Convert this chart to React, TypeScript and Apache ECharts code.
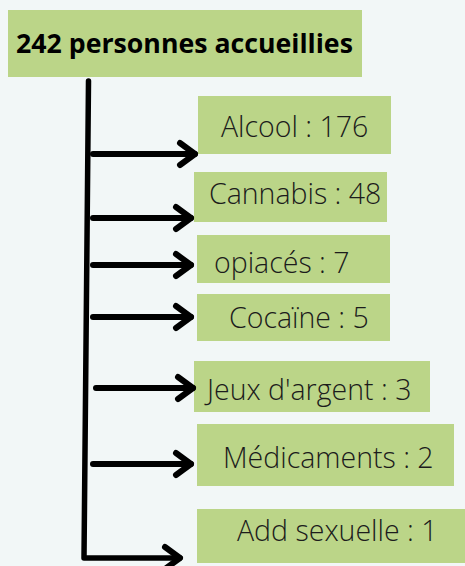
import React, { useEffect, useRef } from "react";
import * as echarts from "echarts";

// ---- data ----
const totalPersons = 242;
const titleSuffix = "personnes accueillies";
const categories = ["Alcool", "Cannabis", "opiacés", "Cocaïne", "Jeux d'argent", "Médicaments", "Add sexuelle"];
const values = [176, 48, 7, 5, 3, 2, 1];

// ---- layout (positions/sizes kept separate from the data) ----
const titleBox = { x: 8, y: 10, w: 354, h: 67, textX: 184.5, textY: 42 };
const boxes = [
  { x: 198, y: 96, w: 193, h: 58, tx: 221, ty: 126, ay: 154, ax0: 93, ax1: 195 },
  { x: 194, y: 172, w: 193, h: 50, tx: 209, ty: 193, ay: 218, ax0: 93, ax1: 191 },
  { x: 197, y: 235, w: 193, h: 48, tx: 214, ty: 262, ay: 265, ax0: 93, ax1: 191 },
  { x: 197, y: 294, w: 193, h: 47, tx: 229, ty: 317, ay: 317, ax0: 93, ax1: 191 },
  { x: 194, y: 361, w: 236, h: 51, tx: 207, ty: 389, ay: 388, ax0: 96, ax1: 193 },
  { x: 197, y: 424, w: 257, h: 62, tx: 223, ty: 457, ay: 464, ax0: 93, ax1: 191 },
  { x: 197, y: 509, w: 268, h: 54, tx: 237, ty: 530, ay: 558, ax0: 84, ax1: 180 },
];
const trunk = { x0: 88.5, y0: 81, x1: 84, y1: 558 };

const BG = "#f2f7f7";
const GREEN = "#bbd588";
const INK = "#000000";
const TEXT = "#1c1c1c";

export default function App() {
  const ref = useRef<HTMLDivElement>(null);
  useEffect(() => {
    document.body.style.margin = "0";
    if (!ref.current) return;
    const chart = echarts.init(ref.current, undefined, { renderer: "svg" });
    const elements: any[] = [];
    elements.push({
      type: "rect",
      shape: { x: titleBox.x, y: titleBox.y, width: titleBox.w, height: titleBox.h },
      style: { fill: GREEN },
    });
    elements.push({
      type: "text",
      x: titleBox.textX,
      y: titleBox.textY,
      style: {
        text: `${totalPersons} ${titleSuffix}`,
        font: "bold 26.7px 'Open Sans'",
        fill: INK,
        align: "center",
        verticalAlign: "middle",
      },
    });
    categories.forEach((c, i) => {
      const b = boxes[i];
      elements.push({
        type: "rect",
        shape: { x: b.x, y: b.y, width: b.w, height: b.h },
        style: { fill: GREEN },
      });
      elements.push({
        type: "text",
        x: b.tx,
        y: b.ty,
        style: {
          text: `${c} : ${values[i]}`,
          font: "300 28.5px 'Open Sans'",
          fill: TEXT,
          align: "left",
          verticalAlign: "middle",
        },
      });
      if (i < categories.length - 1) {
        elements.push({
          type: "line",
          shape: { x1: b.ax0, y1: b.ay, x2: b.ax1, y2: b.ay },
          style: { stroke: INK, lineWidth: 6, lineCap: "round" },
        });
      }
      elements.push({
        type: "polyline",
        shape: { points: [[b.ax1 - 15, b.ay - 11], [b.ax1, b.ay], [b.ax1 - 15, b.ay + 11]] },
        style: { stroke: INK, lineWidth: 6, lineCap: "round", lineJoin: "round", fill: "none" },
      });
    });
    const last = boxes[boxes.length - 1];
    elements.push({
      type: "polyline",
      shape: { points: [[trunk.x0, trunk.y0], [trunk.x1, trunk.y1], [last.ax1, last.ay]] },
      style: { stroke: INK, lineWidth: 5.5, lineCap: "round", lineJoin: "round", fill: "none" },
    });
    chart.setOption({
      animation: false,
      backgroundColor: BG,
      graphic: { elements },
    });
    return () => chart.dispose();
  }, []);
  return <div ref={ref} style={{ width: 465, height: 566 }} />;
}
